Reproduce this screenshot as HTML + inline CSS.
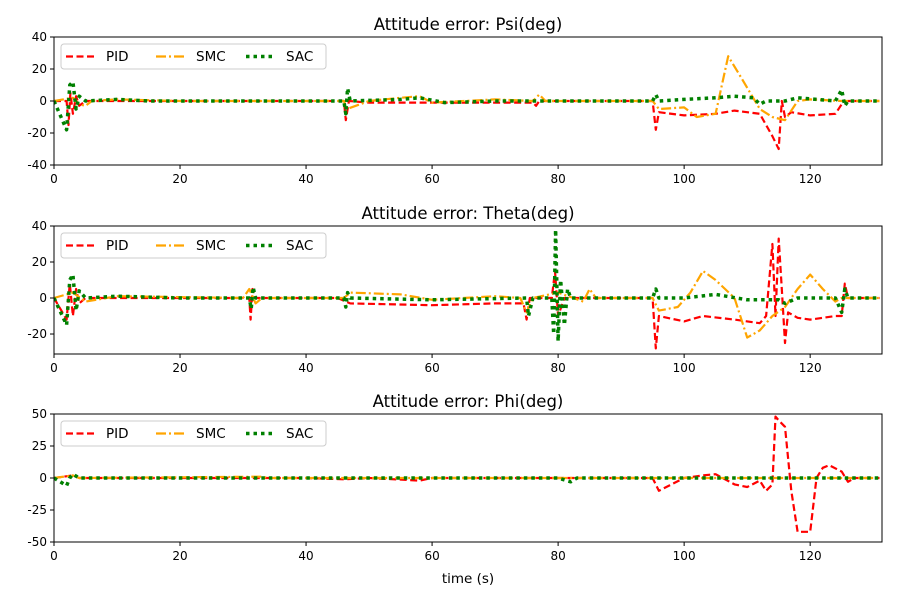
<!DOCTYPE html>
<html><head><meta charset="utf-8"><style>
body{margin:0;background:#fff;}
svg{font-family:"DejaVu Sans","Liberation Sans",sans-serif;}
</style></head><body>
<svg id="fig" width="900" height="600" xmlns="http://www.w3.org/2000/svg"></svg>
<script>
// ---- data (time, value) ----
const psiPID=[[0,0],[2,0],[2.3,-15],[2.6,5],[3,-8],[3.5,3],[4,-3],[5,0],[10,0],[46,0],[46.3,-12],[46.8,0],[50,-1],[60,-1],[70,-1],[76,-1],[76.5,-3],[77,0],[95,0],[95.5,-18],[96,-7],[100,-9],[105,-8],[108,-6],[112,-8],[113,-15],[114,-22],[115,-30],[115.5,0],[116,-10],[117,-7],[120,-9],[124,-8],[125,-2],[126,0],[131,0]];
const psiSMC=[[0,0],[3,2],[4,-2],[5,-3],[6,0],[10,1],[20,0],[46,0],[46.5,-5],[50,0],[55,2],[58,3],[60,-1],[70,1],[76,0],[77,4],[78,0],[95,0],[96,-5],[100,-4],[102,-10],[105,-8],[107,28],[109,15],[112,-5],[114,-10],[116,-12],[118,0],[120,1],[125,0],[131,0]];
const psiSAC=[[0,0],[2,-18],[2.5,10],[3,12],[3.5,-5],[4,3],[5,0],[10,1],[15,0],[46,0],[46.3,-8],[46.6,8],[47,0],[55,1],[58,2],[62,-1],[70,0],[80,0],[95,0],[95.5,4],[96,0],[100,1],[105,2],[108,3],[111,2],[112,-2],[113,0],[116,0],[118,2],[124,0],[125,7],[125.5,-3],[126,0],[131,0]];
const thePID=[[0,0],[2,-12],[2.5,8],[3,-10],[3.5,5],[4,-3],[5,0],[20,0],[31,0],[31.2,-12],[31.5,5],[32,0],[45,0],[47,-3],[60,-4],[70,-3],[74.5,-3],[75,-12],[75.5,0],[79,0],[79.5,15],[80,-10],[81,0],[95,0],[95.5,-28],[96,-10],[100,-13],[103,-10],[108,-12],[112,-14],[113,-10],[114,30],[114.5,-10],[115,33],[115.5,5],[116,-25],[116.5,-8],[118,-11],[120,-12],[124,-10],[125,-10],[125.5,8],[126,0],[131,0]];
const theSMC=[[0,0],[3,3],[5,-2],[10,1],[30,0],[31,5],[32,-3],[33,0],[46,0],[47,3],[55,2],[60,-1],[70,1],[74,0],[75,-8],[76,0],[80,3],[84,-2],[85,5],[86,0],[95,0],[96,-7],[99,-5],[101,3],[103,15],[105,10],[108,0],[110,-22],[112,-18],[114,-10],[116,-5],[118,5],[120,13],[122,5],[124,-2],[125,0],[131,0]];
const theSAC=[[0,0],[2,-15],[2.5,10],[3,13],[3.5,-7],[4,4],[5,0],[10,1],[20,0],[31,0],[31.3,-6],[31.6,6],[32,0],[46,0],[46.3,-5],[46.6,3],[47,0],[60,-1],[75,0],[75.3,-10],[76,0],[79,0],[79.3,-20],[79.6,38],[80,-24],[80.4,10],[81,-15],[81.5,5],[82,0],[95,0],[95.5,5],[96,0],[100,0],[105,2],[110,-1],[115,-1],[116,-3],[118,0],[124,0],[125,-8],[125.5,5],[126,0],[131,0]];
const phiPID=[[0,0],[3,2],[4,0],[40,0],[46,-1],[50,0],[58,-2],[60,0],[95,0],[96,-10],[98,-5],[100,0],[103,2],[105,3],[108,-5],[110,-7],[112,-2],[113,-10],[114,-5],[114.5,48],[115,45],[116,40],[117,-10],[118,-42],[120,-42],[121,0],[122,8],[123,10],[125,5],[126,-3],[127,0],[131,0]];
const phiSMC=[[0,0],[3,2],[4,0],[33,1],[34,0],[131,0]];
const phiSAC=[[0,0],[2,-6],[2.5,0],[3,3],[4,0],[80,0],[82,-3],[83,0],[131,0]];
const xTicks=[0,20,40,60,80,100,120];
const titles=["Attitude error: Psi(deg)","Attitude error: Theta(deg)","Attitude error: Phi(deg)"];
const panels=[
 {top:37,ymin:-40,ymax:40,yticks:[-40,-20,0,20,40],s:[psiPID,psiSMC,psiSAC]},
 {top:226,ymin:-31.1,ymax:40,yticks:[-20,0,20,40],s:[thePID,theSMC,theSAC]},
 {top:414,ymin:-50,ymax:50,yticks:[-50,-25,0,25,50],s:[phiPID,phiSMC,phiSAC]}
];
const names=["PID","SMC","SAC"];
const styles=[{c:"#ff0000",w:2.2,d:"7,3.5"},{c:"#ffa500",w:2.2,d:"10,3,2,3"},{c:"#008000",w:3.5,d:"3.5,4"}];
const L=54,R=882,H=128,XMAX=131.4;
const NS="http://www.w3.org/2000/svg";
const svg=document.getElementById("fig");
function mk(t,a,p){const e=document.createElementNS(NS,t);for(const k in a)e.setAttribute(k,a[k]);(p||svg).appendChild(e);return e;}
const xs=v=>L+(v/XMAX)*(R-L);
panels.forEach((P,i)=>{
 const ys=v=>P.top+(P.ymax-v)/(P.ymax-P.ymin)*H;
 const g=mk("g",{});
 
 
 const cp=mk("clipPath",{id:"cp"+i},g);mk("rect",{x:L,y:P.top,width:R-L,height:H},cp);
 P.s.forEach((ser,j)=>{
  const st=styles[j];
  const p=mk("polyline",{points:ser.map(q=>xs(q[0]).toFixed(1)+","+ys(q[1]).toFixed(1)).join(" "),fill:"none",stroke:st.c,"stroke-width":st.w,"stroke-dasharray":st.d,"stroke-linejoin":"round","clip-path":"url(#cp"+i+")"},g);
  
  
 });
 const fr=mk("rect",{x:L,y:P.top,width:R-L,height:H,fill:"none",stroke:"#000","stroke-width":1},g);
 
 
 xTicks.forEach(t=>{const x=xs(t);mk("line",{x1:x,x2:x,y1:P.top+H,y2:P.top+H+4,stroke:"#000"},g);
  const tx=mk("text",{x:x,y:P.top+H+18,"text-anchor":"middle","font-size":12},g);tx.textContent=t;
  
  });
 P.yticks.forEach(t=>{const y=ys(t);mk("line",{x1:L-4,x2:L,y1:y,y2:y,stroke:"#000"},g);
  const tx=mk("text",{x:L-7,y:y+4,"text-anchor":"end","font-size":12},g);tx.textContent=t;
  
  });
 const ti=mk("text",{x:(L+R)/2,y:P.top-7,"text-anchor":"middle","font-size":16.5},g);ti.textContent=titles[i];
 
 
 const lg=mk("g",{},g);
 
 
 mk("rect",{x:61,y:P.top+7,width:265,height:25,rx:3,fill:"#fff","fill-opacity":0.8,stroke:"#ccc"},lg);
 const ex=[66,156,246];
 names.forEach((n,j)=>{const st=styles[j];const y=P.top+19.5;
  mk("line",{x1:ex[j],x2:ex[j]+28,y1:y,y2:y,stroke:st.c,"stroke-width":st.w,"stroke-dasharray":st.d},lg);
  const tx=mk("text",{x:ex[j]+40,y:y+4.5,"font-size":13.5},lg);tx.textContent=n;
  
  });
});
const xl=mk("text",{x:468,y:583,"text-anchor":"middle","font-size":13.5});xl.textContent="time (s)";


</script>
</body></html>
